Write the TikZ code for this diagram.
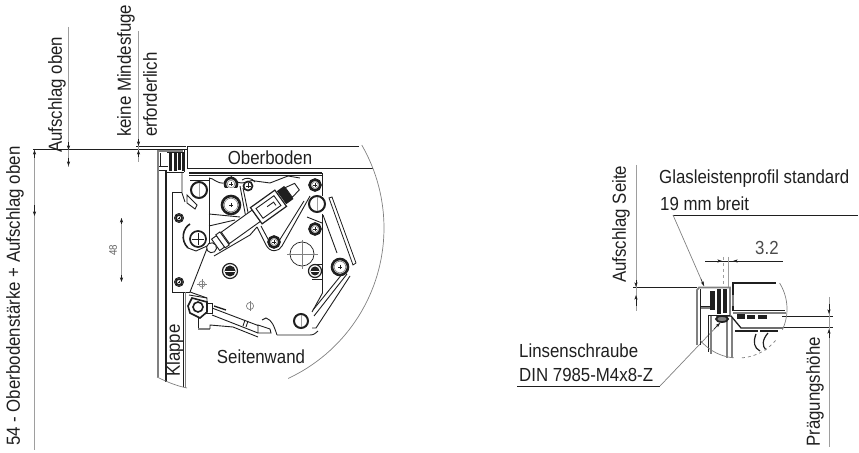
\documentclass[tikz,border=0pt]{standalone}
\usepackage{fontspec}
\setmainfont[FakeStretch=0.89]{Liberation Sans}
\usetikzlibrary{arrows.meta}
\definecolor{dimgray}{gray}{0.62}
\definecolor{ink}{gray}{0.12}
\newcommand{\pivotring}[3]{\draw[ink,line width=2,fill=white] (#1,#2) circle (#3);\draw[dimgray,line width=.5] (#1,#2-#3+1) -- (#1,#2+#3-1);}
\newcommand{\crossring}[3]{\draw[ink,line width=1.7,fill=white] (#1,#2) circle (#3);\draw[ink,line width=.5] (#1-#3+2,#2) -- (#1+#3-2,#2) (#1,#2-#3+2) -- (#1,#2+#3-2);}
\newcommand{\heavyscrew}[3]{\draw[ink,line width=2.6,fill=white] (#1,#2) circle (#3);\draw[gray,line width=.6] (#1,#2) circle (#3-2.2);\draw[ink,line width=.5] (#1-2,#2) -- (#1+2,#2) (#1,#2-2) -- (#1,#2+2);}
\newcommand{\darkscrew}[3]{\draw[ink,line width=1.2,fill=white] (#1,#2) circle (#3+1.5);\fill[ink] (#1,#2) circle (#3-.5);\draw[white,line width=.9] (#1-#3+1,#2) -- (#1+#3-1,#2);}
\tikzset{
  x=1bp,y=-1bp,
  lbl/.style={inner sep=0,font=\fontsize{19}{21}\selectfont,text=ink,anchor=base west},
  vlbl/.style={inner sep=0,font=\fontsize{19}{21}\selectfont,text=ink,rotate=90,anchor=west},
  dimline/.style={dimgray,line width=1},
  leader/.style={gray,line width=.7},
  hline/.style={ink,line width=.9},
  part/.style={ink,line width=.9},
  fat/.style={gray,line width=1.8},
  clip arc/.style={gray,line width=.7},
  tip/.style={-{Stealth[length=4.5,width=3,inset=1]},ink,line width=.5},
}
\begin{document}
\begin{tikzpicture}
\useasboundingbox (0,0) rectangle (859,453);
% ---------- dimension lines, left view
\coordinate (topL) at (33,149);
\coordinate (topR) at (187,149);
\draw[hline] (topL) -- (topR);
\draw[ink,line width=.6] (136,146) -- (186,146);
\coordinate (mainA) at (34.5,150);
\coordinate (mainB) at (34.5,450);
\draw[dimline] (mainA) -- (mainB);
\draw[tip] (34.5,158) -- (mainA);
\draw[tip] (34.5,205) -- (34.5,216);
\draw[dimline] (68.5,27) -- (68.5,167);
\draw[tip] (68.5,142) -- (68.5,150);
\draw[tip] (68.5,158) -- (68.5,166);
\draw[dimline] (138.5,31) -- (138.5,162);
\draw[tip] (138.5,139) -- (138.5,146);
\draw[tip] (138.5,157) -- (138.5,150);
\draw[dimline] (121.5,218) -- (121.5,281);
\draw[tip] (121.5,224) -- (121.5,218);
\draw[tip] (121.5,275) -- (121.5,282);
% labels left
\node[vlbl] (t54) at (15,446) {54 - Oberbodenstärke + Aufschlag oben};
\node[vlbl] (tauf) at (57,153) {Aufschlag oben};
\node[vlbl] (tkein) at (126,137) {keine Mindesfuge};
\node[vlbl] (terf) at (150,137) {erforderlich};
\node[inner sep=0,rotate=90,text=ink!70,font=\fontsize{11}{12}\selectfont] (t48) at (113,250) {48};
% ---------- door
\draw[gray,line width=2.8] (158,377) -- (158,151) -- (183,151);
\draw[part] (160,153) -- (160,166) -- (168,166);
\draw[part] (159,170) -- (167,170);
\draw[ink,line width=1.1] (166,170) -- (166,382);
\draw[part] (159,166) -- (168,166);
\draw[part] (184,150) -- (184,172);
\draw[part] (182,172) -- (182,193) -- (185,202);
\draw[part] (166,172) -- (184,172);
\draw[part] (172,192) -- (172,292) -- (190,292);
\draw[part] (172,192) -- (182,192);
\draw[fat] (185.5,292) -- (185.5,388);
\draw[part] (183,292) -- (183,387);
% seal block
\fill[ink] (169,153) rectangle (172,171);
\fill[ink] (173.5,153) rectangle (176.5,171);
\fill[ink] (178,152) rectangle (180.5,170);
\fill[ink] (182,152) rectangle (183.5,171);
\draw[part] (167,152) -- (183,152);
\draw[clip arc] (157,377) .. controls (167,382) and (177,386) .. (187,388);
% door screws
\draw[part,fill=white] (179,218) circle (4.5);
\crossring{179}{218}{3}
\draw[part,fill=white] (179,282) circle (4.5);
\crossring{179}{282}{3}
% ---------- Oberboden
\draw[hline] (187,168) -- (187,146) -- (359,146);
\draw[hline] (187,168) -- (373,168);
% clip circle
\draw[clip arc] plot[domain=-30:65,samples=50] ({218+166*cos(\x)},{228+166*sin(\x)});
% plate
\draw[ink,line width=1.1] (189,173) -- (322,173);
\draw[ink,line width=.7] (189,175.5) -- (322,175.5);
\draw[ink,line width=2] (258,172.5) -- (274,172.5);
\draw[part] (322.5,173) -- (322.5,196);
\draw[part] (322.5,214) -- (322.5,293);
\draw[part] (313,264) -- (322.5,264);
\draw[part] (312,279) -- (322.5,279);
\draw[part] (322.5,293) -- (312,312) ;
\draw[part] (277,335) -- (310,335) .. controls (314,335) and (316,333) .. (318,331);
% left vertical link
\draw[part] (209,178) -- (209,247);
\draw[part] (190,180) -- (209,180);
\draw[part] (209,178) .. controls (214,178) and (216,184) .. (225,183);
\draw[part] (209,214) -- (240,217);
\draw[part] (209,226) -- (235,220);
% crescents
\draw[part,fill=white] (187,195) -- (197,205) -- (195,209) -- (187,203) -- cycle;
\draw[part,line width=1.6] (190,224) .. controls (183,228) and (180,240) .. (188,248);
\draw[part] (188,248) -- (196,251) -- (207,246);
% diagonal plate edge
\draw[part] (208,246) -- (190,292) -- (207,298);
% top linkage
\draw[part] (231,176) .. controls (240,190) and (250,178) .. (255,181) -- (270,183) -- (288,176) -- (300,178);
\draw[part] (243,188) -- (250,222) -- (244,222);
\draw[part] (240,186) -- (246,218);
\draw[part] (242,180) .. controls (246,177) and (252,178) .. (255,182);
% triangular arm
\draw[part] (257,227) -- (266,245) .. controls (270,253) and (279,252) .. (282,246) -- (310,196);
\draw[part] (261,226) -- (269,241) .. controls (272,246) and (278,245) .. (279,241) -- (304,201);
\draw[part] (214,256) -- (250,235) -- (257,227);
% cylinder
\begin{scope}[shift={(214,246)},rotate=35.6]
  \draw[part,fill=white] (14,-7) rectangle (52,7);
  \draw[part,fill=white] (2,-7) rectangle (8,7);
  \draw[part,fill=white] (8,-8) rectangle (13,8);
  \draw[ink,line width=1.2,fill=white] (52,-10) rectangle (82,10);
  \draw[part,fill=white] (56,-6) rectangle (78,6);
  \draw[part] (66,-1) -- (74,-1) -- (74,3);
  \fill[ink] (83,-8) rectangle (92,8);
  \draw[part,fill=white] (92,-6) -- (102,-4) -- (102,4) -- (92,6) -- cycle;
  \draw[part,fill=white] (-3,0) circle (5);
\end{scope}
% right pivots etc.
\heavyscrew{231}{184}{6}
\fill[white] (225,188) rectangle (238,193);
\heavyscrew{231}{205}{9}
\pivotring{199}{190}{8}
\crossring{198}{239}{8}
\crossring{248}{186}{4.5}
\heavyscrew{274}{242}{5.5}
\heavyscrew{315}{185}{5.5}
\heavyscrew{315}{229}{5.5}
\darkscrew{315}{271}{5}
\darkscrew{230}{271}{6}
% big circle with centre lines
\draw[part,line width=.7] (302,254) circle (12);
\draw[gray,line width=.5] (287,254) -- (318,254) (302,240) -- (302,269);
\draw[gray,line width=.6] (202,284) circle (3);
\draw[gray,line width=.5] (197,284) -- (207,284) (202,279) -- (202,289);
\draw[gray,line width=.7] (250,306) circle (3.6);
\draw[gray,line width=.4] (250,301) -- (250,311);
% right arm
\draw[part] (323,215) -- (337,253);
\draw[part] (307,217) -- (322,223);
\draw[ink,line width=.8,fill=white] (329,198) -- (332,197) -- (356,263) -- (353,265) -- cycle;
\draw[part] (343,273) -- (313,310);
\draw[part] (347,274) -- (314,316);
\draw[part] (350,276) -- (316,328) -- (312,328);
\pivotring{317}{204}{8}
\heavyscrew{340}{267}{8}
\pivotring{301}{321}{7}
% lower rod
\draw[part] (212,308) -- (262,327);
\draw[part] (212,315) -- (258,333);
\draw[part] (245,320) -- (243,326);
\draw[part] (248,321) -- (246,327);
\draw[part,fill=white] (262,320) -- (266,318) .. controls (272,320) and (274,326) .. (277,335);
\draw[part,fill=white] (258,325) -- (270,329) -- (271,333) -- (258,333) -- cycle;
\draw[ink,line width=1.3] (214,306) -- (226,310);
\draw[part,fill=white] (206,303) rectangle (212,313);
\draw[part] (189,295) -- (207,298) -- (207,306);
\draw[ink,line width=1.6,fill=white] (192,298) -- (188,306) -- (190,313) -- (200,318) -- (207,312) -- (207,302) -- cycle;
\draw[ink,line width=1.6,fill=white] (198,307) circle (5);
\draw[part] (198,318) -- (198,328);
\draw[gray,line width=2] (198,329) -- (210,329);
\draw[part] (210,329) -- (210,325) -- (233,327) -- (258,337);
% labels
\node[inner sep=0,font=\fontsize{19}{21}\selectfont,text=ink] (tober) at (270,158) {Oberboden};
\node[inner sep=0,font=\fontsize{19}{21}\selectfont,text=ink] (tseit) at (261,357) {Seitenwand};
\node[vlbl] (tklap) at (175,377) {Klappe};
% ---------- right view dimensions
\coordinate (seitA) at (633,287);
\coordinate (seitB) at (697,287);
\draw[hline] (seitA) -- (seitB);
\draw[dimline] (636,165) -- (636,311);
\draw[tip] (636,280) -- (636,287);
\draw[tip] (636,306) -- (636,295);
\coordinate (glasA) at (673,215);
\coordinate (glasB) at (858,215);
\coordinate (glasC) at (704,286);
\draw[hline] (glasA) -- (glasB);
\draw[leader] (glasA) -- (glasC);
\draw[tip] (701,279) -- (glasC);
\coordinate (linA) at (517,386);
\coordinate (linB) at (660,386);
\coordinate (linC) at (720,323);
\draw[hline] (linA) -- (linB);
\draw[leader] (linB) -- (linC);
\draw[tip] (714,329) -- (linC);
\draw[ink,line width=.7] (705,261) -- (783,261);
\draw[tip] (714,261) -- (722,261);
\draw[tip] (741,261) -- (733,261);
\draw[dimgray,line width=.8,dashed] (723,257) -- (723,288);
\draw[dimgray,line width=.8] (728,257) -- (728,288);
\draw[hline] (782,316) -- (833,316);
\draw[hline] (783,327) -- (833,327);
\draw[dimline] (829,297) -- (829,447);
\draw[tip] (829,304) -- (829,314);
\draw[tip] (829,338) -- (829,329);
% right view drawing
\draw[gray,line width=1.8] (697,345) -- (697,290) -- (699,287.5) -- (730,287.5) -- (730,315);
\draw[part] (700,345) -- (700,289);
\draw[part] (700,306) -- (712,306);
\draw[gray,line width=1.4] (701,308) -- (712,308);
\draw[part] (708,315) -- (708,352);
\draw[fat] (711,316) -- (711,354);
\fill[ink] (710,291) rectangle (715,310);
\fill[ink] (716.5,289) rectangle (721,314);
\fill[ink] (722.5,289) rectangle (726.5,313);
\draw[ink,line width=1] (709,315) -- (730,315);
\draw[fat] (727,316) -- (727,358);
\draw[fat] (732,318) -- (732,358);
\draw[ink,line width=1.2] (733,311) -- (733,283) -- (776,283);
\draw[gray,line width=1.8] (733,295) -- (733,306);
\draw[part] (734,310) -- (785,310);
\draw[gray,line width=1.4] (733,313) -- (786,313);
\fill[ink] (737,314) rectangle (745,319);
\fill[ink] (747,315) rectangle (755,319);
\fill[ink] (758,315) rectangle (767,319);
\draw[ink,line width=1.8,fill=gray] (722,319) ellipse (6 and 3);
\draw[ink,line width=1.3] (716,316) -- (731,316) -- (741,328) -- (783,328);
\draw[ink,line width=2.6] (735,331) -- (758,331);
\draw[ink,line width=1.4] (760,331) -- (778,331);
\draw[ink,line width=1.2] (756,334) .. controls (753,342) and (754,348) .. (760,351);
\draw[ink,line width=1.2] (768,333) .. controls (762,340) and (762,346) .. (766,350);
\draw[clip arc] plot[domain=-32:25,samples=30] ({738+49*cos(\x)},{309+49*sin(\x)});
\draw[clip arc,dashed] plot[domain=40:86,samples=30] ({738+49*cos(\x)},{309+49*sin(\x)});
\draw[clip arc] plot[domain=95:140,samples=30] ({738+49*cos(\x)},{309+49*sin(\x)});
% labels right
\node[vlbl] (tseite) at (621,283) {Aufschlag Seite};
\node[vlbl] (tpraeg) at (815,447) {Prägungshöhe};
\node[lbl] (tglas) at (659,184) {Glasleistenprofil standard};
\node[lbl] (tbreit) at (660,211) {19 mm breit};
\node[lbl] (tlins) at (519,358) {Linsenschraube};
\node[lbl] (tdin) at (519,382) {DIN 7985-M4x8-Z};
\node[lbl,text=ink!80] (tdrei) at (755,255) {3.2};
\end{tikzpicture}
\end{document}
